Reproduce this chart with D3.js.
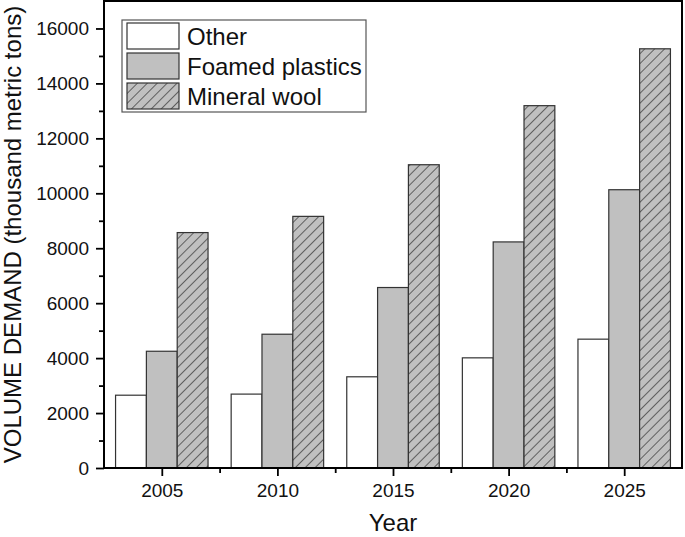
<!DOCTYPE html>
<html>
<head>
<meta charset="utf-8">
<script src="https://cdn.jsdelivr.net/npm/d3@7"></script>
<style>
  body { margin: 0; background: #fff; }
  svg { display: block; font-family: "Liberation Sans", Arial, sans-serif; }
</style>
</head>
<body>
<div id="chart"></div>
<script>
// data
const years = [2005, 2010, 2015, 2020, 2025];
const series = ["Other", "Foamed plastics", "Mineral wool"];
const other = [2650, 2690, 3320, 4010, 4690];
const foamed = [4250, 4870, 6570, 8230, 10130];
const mineral = [8570, 9160, 11040, 13190, 15260];
const yTicks = [0, 2000, 4000, 6000, 8000, 10000, 12000, 14000, 16000];

const width = 685, height = 537;
const margin = { top: 1, right: 3, bottom: 69, left: 104 };

const svg = d3.select("#chart").append("svg")
  .attr("width", width)
  .attr("height", height);

const defs = svg.append("defs");
const pat = defs.append("pattern")
  .attr("id", "hatch")
  .attr("patternUnits", "userSpaceOnUse")
  .attr("width", 7).attr("height", 7)
  .attr("patternTransform", "rotate(45)");
pat.append("rect").attr("width", 7).attr("height", 7).attr("fill", "#c0c0c0");
pat.append("line")
  .attr("x1", 0).attr("y1", 0).attr("x2", 0).attr("y2", 7)
  .attr("stroke", "#2a2a2a").attr("stroke-width", 1.3);

const fills = ["#ffffff", "#c0c0c0", "url(#hatch)"];
const values = [other, foamed, mineral];

const x = d3.scaleLinear()
  .domain([2002.5, 2027.5])
  .range([margin.left, width - margin.right]);

const y = d3.scaleLinear()
  .domain([0, 17000])
  .range([height - margin.bottom, margin.top]);

// bars: group is 80% of the 5-year slot, split in three
const slot = x(2010) - x(2005);
const bw = slot * 0.8 / 3;

series.forEach((s, si) => {
  svg.append("g")
    .selectAll("rect")
    .data(years.map((yr, i) => ({ yr, v: values[si][i] })))
    .join("rect")
      .attr("x", d => x(d.yr) - 1.5 * bw + si * bw)
      .attr("y", d => y(d.v))
      .attr("width", bw)
      .attr("height", d => y(0) - y(d.v))
      .attr("fill", fills[si])
      .attr("stroke", "#333")
      .attr("stroke-width", 1.2);
});

// frame
svg.append("rect")
  .attr("x", margin.left).attr("y", margin.top)
  .attr("width", width - margin.left - margin.right)
  .attr("height", height - margin.top - margin.bottom)
  .attr("fill", "none")
  .attr("stroke", "#000")
  .attr("stroke-width", 2);

// y axis
const yAxis = d3.axisLeft(y)
  .tickValues(yTicks)
  .tickFormat(d3.format("d"))
  .tickSize(8)
  .tickPadding(7);
const gy = svg.append("g")
  .attr("transform", `translate(${margin.left},0)`)
  .call(yAxis);
gy.select(".domain").remove();
gy.selectAll(".tick line").attr("stroke-width", 1.8);
gy.selectAll("text").style("font-size", "19px").attr("fill", "#111");

const gym = svg.append("g")
  .attr("transform", `translate(${margin.left},0)`)
  .call(d3.axisLeft(y).tickValues(d3.range(1000, 17000, 2000)).tickSize(5).tickFormat(""));
gym.select(".domain").remove();
gym.selectAll(".tick line").attr("stroke-width", 1.8);

// x axis
const gx = svg.append("g")
  .attr("transform", `translate(0,${height - margin.bottom})`)
  .call(d3.axisBottom(x).tickValues(years).tickFormat(d3.format("d")).tickSize(8).tickPadding(8));
gx.select(".domain").remove();
gx.selectAll(".tick line").attr("stroke-width", 1.8);
gx.selectAll("text").style("font-size", "19px").attr("fill", "#111");

const gxm = svg.append("g")
  .attr("transform", `translate(0,${height - margin.bottom})`)
  .call(d3.axisBottom(x).tickValues(d3.range(2007.5, 2027.5, 5)).tickSize(5).tickFormat(""));
gxm.select(".domain").remove();
gxm.selectAll(".tick line").attr("stroke-width", 1.8);

// axis titles
svg.append("text")
  .attr("x", (margin.left + width - margin.right) / 2)
  .attr("y", 531)
  .attr("text-anchor", "middle")
  .style("font-size", "24px")
  .attr("fill", "#111")
  .text("Year");

svg.append("text")
  .attr("transform", `translate(21,${(margin.top + height - margin.bottom) / 2}) rotate(-90)`)
  .attr("text-anchor", "middle")
  .style("font-size", "24px")
  .attr("fill", "#111")
  .text("VOLUME DEMAND (thousand metric tons)");

// legend
const lg = svg.append("g").attr("transform", "translate(122,20)");
lg.append("rect")
  .attr("width", 244).attr("height", 92)
  .attr("fill", "#fff")
  .attr("stroke", "#555")
  .attr("stroke-width", 1.2);
series.forEach((s, i) => {
  const row = lg.append("g").attr("transform", `translate(5,${3 + i * 30})`);
  row.append("rect")
    .attr("width", 52).attr("height", 26)
    .attr("fill", fills[i])
    .attr("stroke", "#333")
    .attr("stroke-width", 1.2);
  row.append("text")
    .attr("x", 60).attr("y", 22)
    .style("font-size", "24px")
    .attr("fill", "#111")
    .text(s);
});
</script>
</body>
</html>
